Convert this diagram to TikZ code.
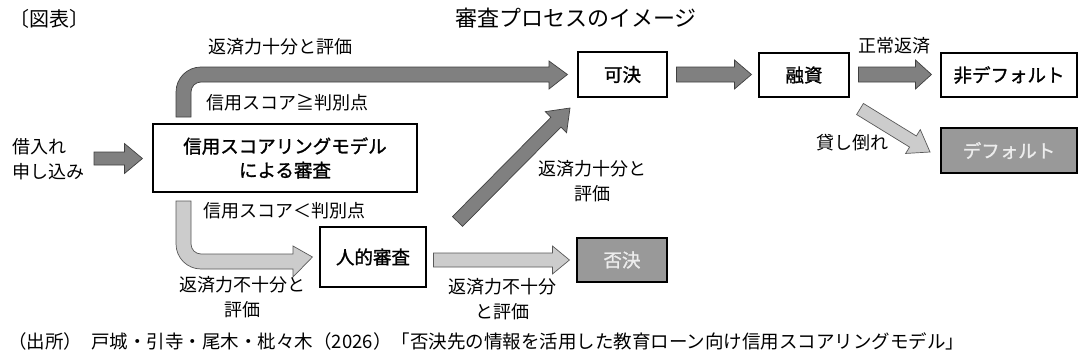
\documentclass[tikz,border=0pt]{standalone}
\usepackage{fontspec}
\setmainfont{Noto Sans CJK JP}
\newfontfamily\jpb[FakeBold=1.3]{Noto Sans CJK JP}
\usetikzlibrary{calc}
\definecolor{darkarr}{RGB}{128,128,128}
\definecolor{lightarr}{RGB}{204,204,204}
\definecolor{greybox}{RGB}{153,153,153}
\tikzset{
  lbl/.style={font=\fontsize{18}{25}\selectfont, inner sep=0pt, align=center},
  whitebox/.style={draw=black, line width=1.1pt, fill=white, font=\jpb\fontsize{18.5}{24}\selectfont, align=center, inner sep=0pt},
  greyboxst/.style={draw=black, line width=1.1pt, fill=greybox, text=white, font=\jpb\fontsize{18.5}{24}\selectfont, align=center, inner sep=0pt},
  darkfill/.style={fill=darkarr, draw=black!75, line width=0.7pt},
  lightfill/.style={fill=lightarr, draw=black!65, line width=0.7pt}
}
% block arrow: #1 style, #2 start coord, #3 tip coord, #4 shaft half width, #5 head half width, #6 head length
\newcommand\blockarr[6]{%
  \path ($(#3)!#6!(#2)$) coordinate (hb);
  \filldraw[#1] ($(#2)!#4!90:(#3)$) -- ($(hb)!#4!-90:(#2)$) -- ($(hb)!#5!-90:(#2)$) -- (#3)
     -- ($(hb)!#5!90:(#2)$) -- ($(hb)!#4!90:(#2)$) -- ($(#2)!#4!-90:(#3)$) -- cycle;}
\begin{document}
\begin{tikzpicture}[x=1pt,y=-1pt]
\useasboundingbox[fill=white] (0,0) rectangle (1091,361);

% titles
\node[lbl, anchor=west, font=\fontsize{20}{24}\selectfont] (fig) at (9,19) {〔図表〕};
\node[lbl, font=\fontsize{22}{24}\selectfont] (title) at (576,18) {審査プロセスのイメージ};

% boxes
\node[whitebox, minimum width=264pt, minimum height=68pt] (model) at (285,158) {信用スコアリングモデル\\による審査};
\node[whitebox, minimum width=89pt, minimum height=45pt] (kaketsu) at (622.5,74.5) {可決};
\node[whitebox, minimum width=90pt, minimum height=44pt] (yushi) at (804,75) {融資};
\node[whitebox, minimum width=136pt, minimum height=44pt] (nondef) at (1009,75) {非デフォルト};
\node[greyboxst, minimum width=136pt, minimum height=45pt, text=white!93!black] (def) at (1009,150.5) {デフォルト};
\node[whitebox, minimum width=106pt, minimum height=60pt] (human) at (373,257) {人的審査};
\node[greyboxst, minimum width=90pt, minimum height=44pt, text=white!93!black] (hiketsu) at (622,260) {否決};

% application text
\node[lbl, anchor=west, align=left] (apply) at (12,159) {借入れ\\申し込み};

% arrow: application -> model
\coordinate (a1s) at (94,158.5);
\coordinate (a1t) at ([xshift=-10pt]model.west |- a1s);
\blockarr{darkfill}{a1s}{a1t}{6.5pt}{15pt}{18pt}

% upper bent arrow: model -> kaketsu
\filldraw[darkfill] (176,117) -- (176,92) .. controls (176,78.2) and (187.2,67) .. (201,67)
  -- (549,67) -- (549,61) -- ([xshift=-10pt]kaketsu.west) -- (549,89) -- (549,82)
  -- (201,82) .. controls (195.5,82) and (191,86.5) .. (191,92) -- (191,117) -- cycle;

% lower bent arrow: model -> human
\filldraw[lightfill] (176,201) -- (176,244) .. controls (176,257.8) and (187.2,269) .. (201,269)
  -- (293,269) -- (293,277) -- ([xshift=-7pt]human.west) -- (293,246) -- (293,254)
  -- (201,254) .. controls (195.5,254) and (191,249.5) .. (191,244) -- (191,201) -- cycle;

% diagonal: human -> kaketsu
\coordinate (d1s) at (457.5,221.5);
\coordinate (d1t) at (570,108);
\blockarr{darkfill}{d1s}{d1t}{7pt}{15pt}{20pt}

% human -> hiketsu
\coordinate (h1s) at ([xshift=7pt]human.east |- 0,260);
\coordinate (h1t) at ([xshift=-7pt]hiketsu.west |- 0,260);
\blockarr{lightfill}{h1s}{h1t}{7pt}{14pt}{17pt}

% kaketsu -> yushi
\coordinate (k1s) at ([xshift=9pt]kaketsu.east |- 0,74.5);
\coordinate (k1t) at ([xshift=-7pt]yushi.west |- 0,74.5);
\blockarr{darkfill}{k1s}{k1t}{7.5pt}{14.5pt}{17pt}

% yushi -> nondef
\coordinate (y1s) at ([xshift=9pt]yushi.east |- 0,74.5);
\coordinate (y1t) at ([xshift=-9pt]nondef.west |- 0,74.5);
\blockarr{darkfill}{y1s}{y1t}{7.5pt}{14.5pt}{16pt}

% yushi -> def (diagonal)
\coordinate (y2s) at (860,109);
\coordinate (y2t) at (930,152);
\blockarr{lightfill}{y2s}{y2t}{6.5pt}{14pt}{20pt}

% labels
\node[lbl, anchor=west] (l1) at (208,47) {返済力十分と評価};
\node[lbl, anchor=west] (l2) at (206,103) {信用スコア≧判別点};
\node[lbl, anchor=west] (l3) at (203,211) {信用スコア＜判別点};
\node[lbl] (l4) at (242,297.5) {返済力不十分と\\評価};
\node[lbl] (l5) at (502,299.5) {返済力不十分\\と評価};
\node[lbl] (l6) at (592,181.5) {返済力十分と\\評価};
\node[lbl] (l7) at (894,46) {正常返済};
\node[lbl] (l8) at (852,143) {貸し倒れ};

% footnote
\node[lbl, anchor=west, font=\fontsize{18.5}{24}\selectfont] (src) at (8,341) {（出所）\hspace{0.5em}戸城・引寺・尾木・枇々木（2026）「否決先の情報を活用した教育ローン向け信用スコアリングモデル」};
\end{tikzpicture}
\end{document}
